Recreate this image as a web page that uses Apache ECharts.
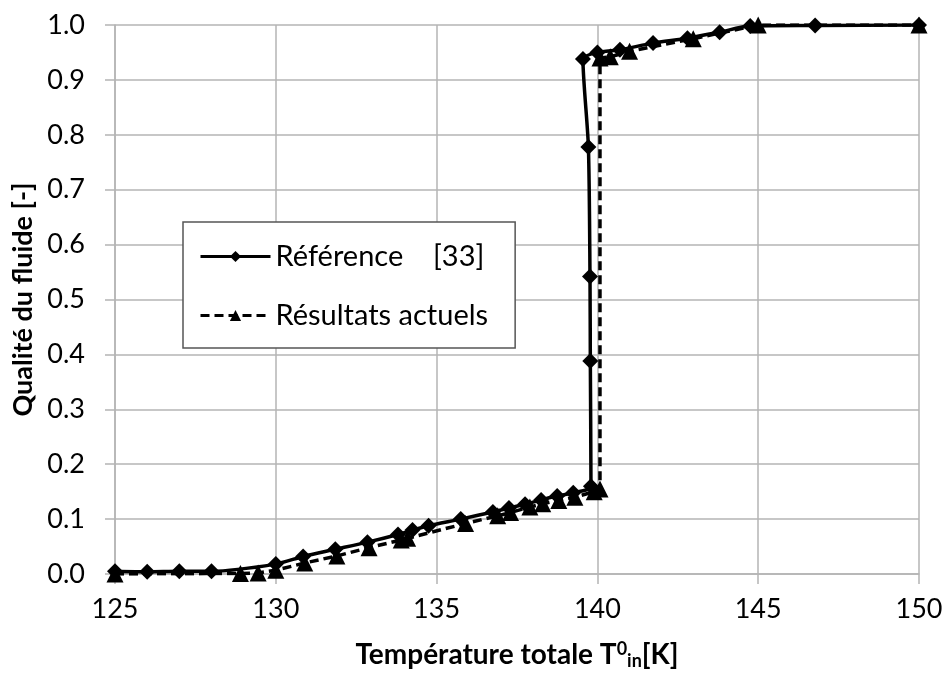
<!DOCTYPE html>
<html>
<head>
<meta charset="utf-8">
<script src="https://cdn.jsdelivr.net/npm/echarts@6/dist/echarts.min.js"></script>
<style>html,body{margin:0;padding:0;background:#fff;}#c{width:946px;height:675px;}</style>
</head>
<body>
<div id="c"></div>
<script>
// Reference [33] (diamonds, solid)
const refX = [125, 126, 127, 128, 130.0, 130.85, 131.85, 132.85, 133.8, 134.25, 134.75, 135.75, 136.75, 137.25, 137.75, 138.25, 138.75, 139.25, 139.8, 139.78, 139.77, 139.72, 139.55, 140.0, 140.7, 141.73, 142.8, 143.8, 144.75, 146.77, 150];
const refY = [0.005, 0.004, 0.005, 0.005, 0.018, 0.032, 0.045, 0.058, 0.072, 0.08, 0.088, 0.1, 0.113, 0.12, 0.127, 0.135, 0.142, 0.148, 0.16, 0.388, 0.542, 0.778, 0.938, 0.95, 0.955, 0.967, 0.976, 0.987, 0.998, 0.999, 1.0];
// Résultats actuels (triangles, dashed)
const resX = [125, 128.9, 129.45, 130.0, 130.9, 131.9, 132.9, 133.9, 134.1, 135.9, 136.9, 137.3, 137.9, 138.3, 138.8, 139.3, 139.9, 140.08, 140.08, 140.4, 141.0, 142.98, 145.0, 150.0];
const resY = [0.0, 0.001, 0.002, 0.007, 0.02, 0.033, 0.048, 0.062, 0.065, 0.092, 0.106, 0.112, 0.122, 0.128, 0.134, 0.14, 0.15, 0.155, 0.94, 0.942, 0.952, 0.975, 1.0, 1.0];
const xTicks = [125, 130, 135, 140, 145, 150];
const yTicks = [0.0, 0.1, 0.2, 0.3, 0.4, 0.5, 0.6, 0.7, 0.8, 0.9, 1.0];

const FONT = 'Lato';
const chart = echarts.init(document.getElementById('c'), null, {renderer: 'canvas'});
const gridColor = '#b4b4b4';
chart.setOption({
  backgroundColor: '#fff',
  animation: false,
  textStyle: {fontFamily: FONT, color: '#000'},
  grid: {left: 115, right: 27, top: 25, bottom: 100},
  legend: {
    left: 183, top: 222,
    orient: 'vertical',
    backgroundColor: '#fff',
    borderColor: '#555', borderWidth: 1.5,
    padding: [20, 27, 18, 16],
    itemGap: 30,
    itemWidth: 70, itemHeight: 14,
    lineStyle: {width: 3},
    textStyle: {fontFamily: FONT, fontSize: 29, color: '#000'},
    data: ['Référence    [33]', 'Résultats actuels']
  },
  xAxis: {
    type: 'value', min: xTicks[0], max: xTicks[xTicks.length - 1], interval: 5,
    name: 'Température totale T{sup|0}{sub|in}[K]',
    nameLocation: 'middle', nameGap: 66,
    nameTextStyle: {
      fontFamily: FONT, fontSize: 28, fontWeight: 'bold', color: '#000',
      rich: {
        sup: {fontSize: 18, fontWeight: 'bold', verticalAlign: 'top', padding: [0, 0, 12, 0], fontFamily: FONT},
        sub: {fontSize: 18, fontWeight: 'bold', verticalAlign: 'bottom', padding: [10, 0, 0, 0], fontFamily: FONT}
      }
    },
    axisLine: {show: true, lineStyle: {color: gridColor, width: 1.5}},
    axisTick: {show: true, length: 10, lineStyle: {color: gridColor, width: 1.5}},
    axisLabel: {fontSize: 27, color: '#000', margin: 22, fontFamily: FONT},
    splitLine: {show: true, lineStyle: {color: gridColor, width: 1.5}}
  },
  yAxis: {
    type: 'value', min: 0, max: 1, interval: 0.1,
    name: 'Qualité du fluide [-]',
    nameLocation: 'middle', nameGap: 76, nameRotate: 90,
    nameTextStyle: {fontFamily: FONT, fontSize: 27, fontWeight: 'bold', color: '#000'},
    axisLine: {show: true, lineStyle: {color: gridColor, width: 1.5}},
    axisTick: {show: true, length: 10, lineStyle: {color: gridColor, width: 1.5}},
    axisLabel: {fontSize: 27, color: '#000', margin: 30, fontFamily: FONT,
      formatter: v => v.toFixed(1)},
    splitLine: {show: true, lineStyle: {color: gridColor, width: 1.5}}
  },
  series: [
    {
      name: 'Référence    [33]', type: 'line',
      data: refX.map((x, i) => [x, refY[i]]),
      smooth: 0.25,
      symbol: 'diamond', symbolSize: 16,
      lineStyle: {color: '#000', width: 3.5, type: 'solid'},
      itemStyle: {color: '#000'}
    },
    {
      name: 'Résultats actuels', type: 'line',
      data: resX.map((x, i) => [x, resY[i]]),
      smooth: false,
      symbol: 'triangle', symbolSize: 17,
      lineStyle: {color: '#000', width: 3.5, type: [9, 5]},
      itemStyle: {color: '#000'}
    }
  ]
});
</script>
</body>
</html>
